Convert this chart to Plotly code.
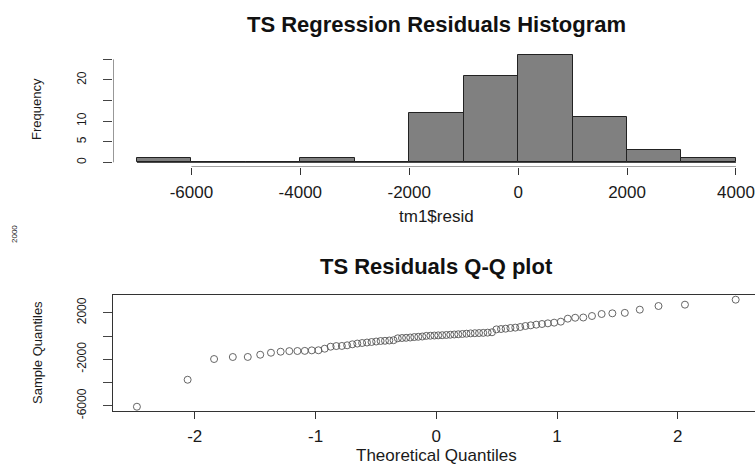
import plotly.graph_objects as go

# ---------------- data ----------------
hist_edges = [-7000, -6000, -5000, -4000, -3000, -2000, -1000, 0, 1000, 2000, 3000, 4000]
hist_counts = [1, 0, 0, 1, 0, 12, 21, 26, 11, 3, 1]
hist_xticks = [-6000, -4000, -2000, 0, 2000, 4000]
hist_yticks = [0, 5, 10, 15, 20, 25]
hist_yticklabels = ["0", "5", "10", "", "20", ""]

theo_q = [-2.479, -2.059, -1.840, -1.685, -1.561, -1.458, -1.369, -1.289, -1.217, -1.150,
          -1.089, -1.031, -0.976, -0.924, -0.875, -0.828, -0.782, -0.738, -0.695, -0.654,
          -0.614, -0.574, -0.536, -0.498, -0.461, -0.425, -0.389, -0.354, -0.319, -0.284,
          -0.250, -0.216, -0.182, -0.149, -0.116, -0.083, -0.049, -0.016,
          0.016, 0.049, 0.083, 0.116, 0.149, 0.182, 0.216, 0.250, 0.284, 0.319,
          0.354, 0.389, 0.425, 0.461, 0.498, 0.536, 0.574, 0.614, 0.654, 0.695,
          0.738, 0.782, 0.828, 0.875, 0.924, 0.976, 1.031, 1.089, 1.150, 1.217,
          1.289, 1.369, 1.458, 1.561, 1.685, 1.840, 2.059, 2.479]
sample_q = [-6080, -3760, -1980, -1806, -1800, -1610, -1437, -1350, -1300, -1290,
            -1280, -1235, -1225, -1092, -920, -865, -855, -800, -714, -650,
            -602, -560, -516, -475, -430, -413, -387, -361, -198, -172,
            -155, -129, -90, -69, -43, 10, 25, 40, 55, 70,
            90, 110, 130, 150, 175, 200, 225, 240, 255, 270,
            290, 320, 570, 600, 630, 690, 720, 775, 860, 918,
            975, 1032, 1090, 1147, 1233, 1490, 1570, 1590, 1720, 1892,
            1950, 1990, 2265, 2580, 2695, 3123]
qq_xticks = [-2, -1, 0, 1, 2]
qq_yticks = [-6000, -4000, -2000, 0, 2000]
qq_yticklabels = ["-6000", "", "-2000", "", "2000"]

# ---------------- layout constants ----------------
W, H = 755, 466
LEFT = 113
FONT = "Liberation Sans, Arial, sans-serif"
TXT = "#1a1a1a"
h_xrange = [-7440, 4350]
h_yrange = [-1.04, 27.04]
q_xrange = [-2.677, 2.639]
q_yrange = [-6448, 3491]

def pfy(ypx):
    return (H - ypx) / H

def pfx(xpx):
    return (xpx - LEFT) / (W - LEFT)

fig = go.Figure()

centers = [(a + b) / 2 for a, b in zip(hist_edges[:-1], hist_edges[1:])]
widths = [b - a for a, b in zip(hist_edges[:-1], hist_edges[1:])]
fig.add_trace(go.Bar(x=centers, y=hist_counts, width=widths,
                     marker=dict(color="#808080", line=dict(color="#222222", width=1)),
                     xaxis="x", yaxis="y", showlegend=False, hoverinfo="skip"))
# baseline of histogram (zero-height bars)
fig.add_trace(go.Scatter(x=[hist_edges[0], hist_edges[-1]], y=[0, 0], mode="lines",
                         line=dict(color="#222222", width=1), xaxis="x", yaxis="y",
                         showlegend=False, hoverinfo="skip"))
# R-style axis lines spanning the tick range
fig.add_trace(go.Scatter(x=[hist_xticks[0], hist_xticks[-1]], y=[h_yrange[0], h_yrange[0]],
                         mode="lines", line=dict(color="#333333", width=1), cliponaxis=False,
                         xaxis="x", yaxis="y", showlegend=False, hoverinfo="skip"))
fig.add_trace(go.Scatter(x=[h_xrange[0], h_xrange[0]], y=[hist_yticks[0], hist_yticks[-1]],
                         mode="lines", line=dict(color="#333333", width=1), cliponaxis=False,
                         xaxis="x", yaxis="y", showlegend=False, hoverinfo="skip"))

fig.add_trace(go.Scatter(x=theo_q, y=sample_q, mode="markers",
                         marker=dict(symbol="circle-open", size=7, color="#555555",
                                     line=dict(width=0.9, color="#555555")),
                         xaxis="x2", yaxis="y2", showlegend=False, cliponaxis=False))

tickfont = dict(family=FONT, size=17, color=TXT)
rotfont = dict(family=FONT, size=12, color=TXT)

common = dict(showgrid=False, zeroline=False, automargin=False)
fig.update_layout(
    template="none",
    width=W, height=H,
    margin=dict(l=LEFT, r=0, t=0, b=0, pad=0, autoexpand=False),
    paper_bgcolor="white", plot_bgcolor="white",
    bargap=0,
    xaxis=dict(domain=[0, 1], anchor="y", range=h_xrange, tickvals=hist_xticks,
               ticktext=[str(v) for v in hist_xticks], ticks="outside", ticklen=7,
               tickcolor="#333333", showline=False, tickfont=tickfont,
               ticklabelstandoff=3, **common),
    yaxis=dict(domain=[pfy(166.6), pfy(51.0)], anchor="x", range=h_yrange,
               tickvals=hist_yticks, ticktext=hist_yticklabels, ticks="outside", ticklen=9,
               tickcolor="#444444", showline=False, tickangle=-90, tickfont=rotfont,
               ticklabelstandoff=12, **common),
    xaxis2=dict(domain=[0, 1], anchor="y2", range=q_xrange, tickvals=qq_xticks,
                ticktext=[str(v) for v in qq_xticks], ticks="outside", ticklen=7,
                tickcolor="#333333", showline=True, mirror=True, linecolor="#333333",
                linewidth=1, tickfont=tickfont, ticklabelstandoff=3, **common),
    yaxis2=dict(domain=[pfy(411.0), pfy(295.4)], anchor="x2", range=q_yrange,
                tickvals=qq_yticks, ticktext=qq_yticklabels, ticks="outside", ticklen=9,
                tickcolor="#444444", showline=True, linecolor="#333333", linewidth=1,
                tickangle=-90, tickfont=rotfont, ticklabelstandoff=12, **common),
)

anns = [
    dict(text="<b>TS Regression Residuals Histogram</b>", x=pfx(436.5), y=pfy(24),
         font=dict(family=FONT, size=22, color="#111111")),
    dict(text="tm1$resid", x=pfx(436.5), y=pfy(216), font=dict(family=FONT, size=17, color=TXT)),
    dict(text="Frequency", x=pfx(37), y=pfy(109), textangle=-90,
         font=dict(family=FONT, size=13, color=TXT)),
    dict(text="<b>TS Residuals Q-Q plot</b>", x=pfx(436.5), y=pfy(266.7),
         font=dict(family=FONT, size=22, color="#111111")),
    dict(text="Theoretical Quantiles", x=pfx(436.5), y=pfy(455),
         font=dict(family=FONT, size=17, color=TXT)),
    dict(text="Sample Quantiles", x=pfx(37), y=pfy(353), textangle=-90,
         font=dict(family=FONT, size=13, color=TXT)),
    dict(text="2000", x=pfx(15), y=pfy(234), textangle=-90,
         font=dict(family=FONT, size=8, color=TXT)),
]
for a in anns:
    a.update(xref="paper", yref="paper", showarrow=False, xanchor="center", yanchor="middle")
fig.update_layout(annotations=anns)

fig.write_html("out.html")
